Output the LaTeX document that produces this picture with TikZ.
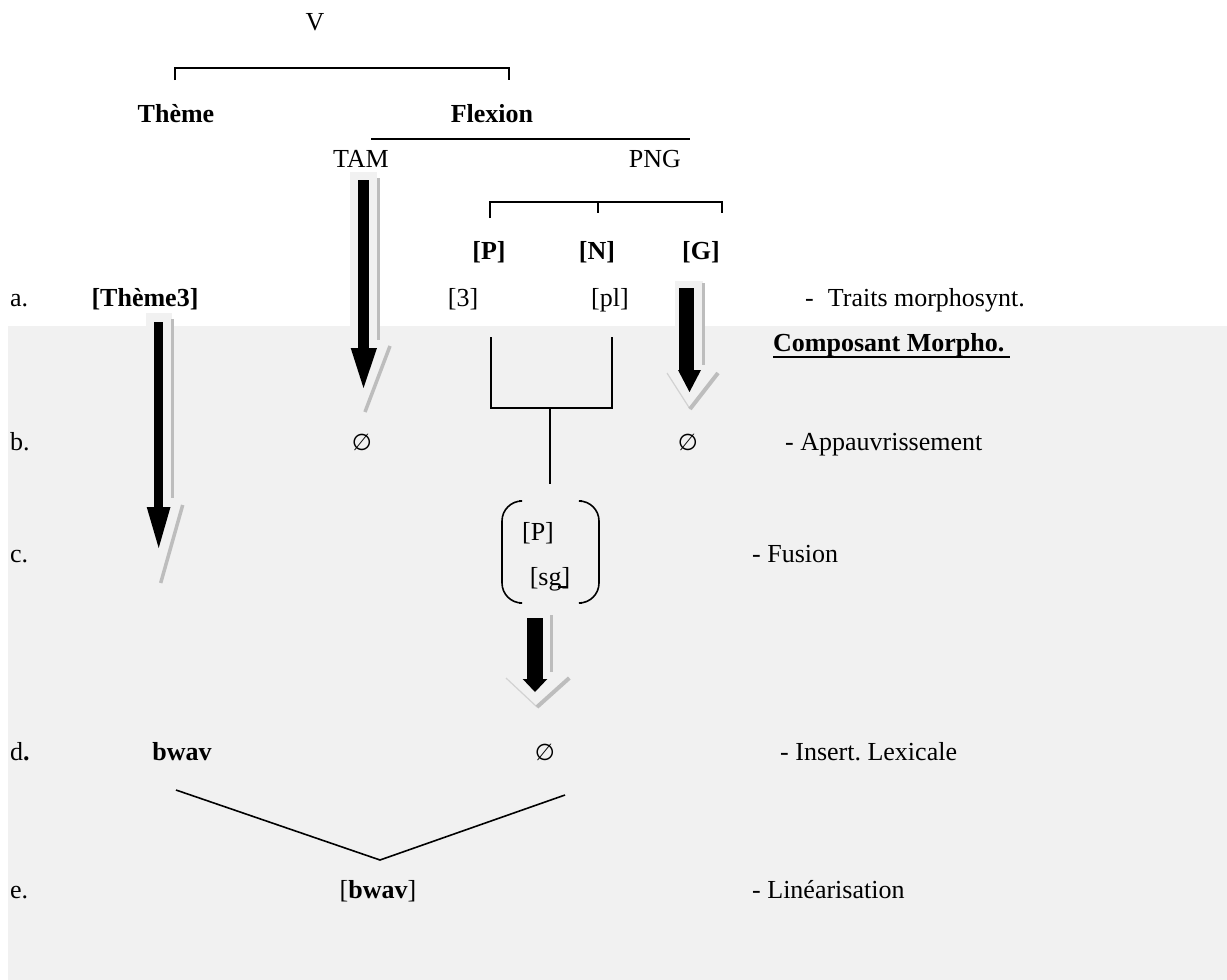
\documentclass[tikz,border=0pt]{standalone}
\usepackage{fontspec}
\setmainfont{Liberation Serif}
\newfontfamily\symfont{DejaVu Sans}
\definecolor{bg}{HTML}{F1F1F1}
\definecolor{sh}{HTML}{BDBDBD}
\definecolor{shl}{HTML}{D2D2D2}
\frenchspacing
\begin{document}
\begin{tikzpicture}[x=1pt,y=-1pt,
  txt/.style={inner sep=0pt, anchor=base, font=\fontsize{26}{30}\selectfont},
  txtb/.style={txt, font=\fontsize{26}{30}\selectfont\bfseries},
  txtl/.style={txt, anchor=base west},
  empt/.style={inner sep=0pt, anchor=base, font=\fontsize{23}{28}\selectfont\symfont},
  ln/.style={line width=1.6pt},
  shv/.style={sh, line width=3pt},
  shd/.style={sh, line width=3.5pt},
  shthin/.style={shl, line width=1.2pt}]
\useasboundingbox (0,0) rectangle (1227,980);
% background panel
\fill[bg] (8,326) rectangle (1227,980);
% light boxes behind arrow tops
\fill[bg] (350,172) rectangle (377,330);
\fill[bg] (146,313) rectangle (172,330);
\fill[bg] (675,281) rectangle (703,330);

% tree top
\node[txt] (V) at (315,30) {V};
\draw[ln] (175,80) -- (175,68) -- (509,68) -- (509,80);
\node[txtb] (theme) at (176,122) {Thème};
\node[txtb] (flex) at (492,122) {Flexion};
\draw[ln] (371,139) -- (690,139);
\node[txt] (tam) at (361,167) {TAM};
\node[txt] (png) at (655,167) {PNG};
\draw[ln] (490,218) -- (490,202) -- (722,202) -- (722,213);
\draw[ln] (598,202) -- (598,213);
\node[txtb] (P) at (489,259) {[P]};
\node[txtb] (N) at (597,259) {[N]};
\node[txtb] (G) at (701,259) {[G]};

% row a
\node[txtl] (la) at (10,306) {a.};
\node[txtb] (th3) at (145,306) {[Thème3]};
\node[txt] (v3) at (463,306) {[3]};
\node[txt] (vpl) at (610,306) {[pl]};
\node[txtl] (ra) at (805,306) {-\hspace{14pt}Traits morphosynt.};
\node[txtb, anchor=base west] (comp) at (773,351) {Composant Morpho.};
\draw[line width=2pt] (773,357) -- (1010,357);

% row b
\node[txtl] (lb) at (10,450) {b.};
\node[empt] (e1) at (362,450) {∅};
\node[empt] (e2) at (688,450) {∅};
\node[txtl] (rb) at (785,450) {- Appauvrissement};

% fusion lines
\draw[ln] (491,337) -- (491,408) -- (612,408) -- (612,337);
\draw[ln] (550,408) -- (550,484);

% row c
\node[txtl] (lc) at (10,562) {c.};
\draw[ln, rounded corners=20pt] (519,501) -- (502,501) -- (502,603) -- (519,603);
\draw[ln, rounded corners=20pt] (582,501) -- (599,501) -- (599,603) -- (582,603);
\node[txt] (fP) at (538,540) {[P]};
\node[txt] (fsg) at (550,585) {[sg]};
\draw[line width=1.4pt] (558,587) -- (567,587);
\node[txtl] (rc) at (752,562) {- Fusion};

% row d
\node[txtl] (ld) at (10,760) {d\textbf{.}};
\node[txtb] (bwav) at (182,760) {bwav};
\node[empt] (e3) at (545,760) {∅};
\node[txtl] (rd) at (780,760) {- Insert. Lexicale};
\coordinate (vx) at (380,860);
\draw[ln] (176,790) -- (vx) -- (565,795);

% row e
\node[txtl] (le) at (10,898) {e.};
\node[txt] (lin) at (378,898) {[\textbf{bwav}]};
\node[txtl] (re) at (752,898) {- Linéarisation};

% ---- block arrows ----
% TAM arrow
\draw[shv] (378,178) -- (378,340);
\draw[shd] (390,346) -- (365,412);
\fill (357.7,180) rectangle (369.3,348);
\fill (350.7,348) -- (377,348) -- (363.5,388) -- cycle;
% Theme3 arrow
\draw[shv] (172.3,319) -- (172.3,498);
\draw[shd] (182.7,505) -- (160.7,583);
\fill (154,322) rectangle (163.3,507);
\fill (146.7,507) -- (170.5,507) -- (158.7,548) -- cycle;
% G arrow
\draw[shv] (703.3,283) -- (703.3,365);
\draw[shthin] (667,373) -- (690,409);
\draw[sh, line width=4pt] (690,409) -- (718,373);
\fill (679,288) rectangle (694,370);
\fill (678,370) -- (701,370) -- (689.5,392) -- cycle;
% Fusion arrow
\draw[shv] (551.7,615) -- (551.7,672);
\draw[shthin] (506,678) -- (537,707);
\draw[sh, line width=4pt] (537,707) -- (569.3,678);
\fill (527.3,618) rectangle (542.7,679);
\fill (522.7,679) -- (547.3,679) -- (535,692) -- cycle;
\end{tikzpicture}
\end{document}
